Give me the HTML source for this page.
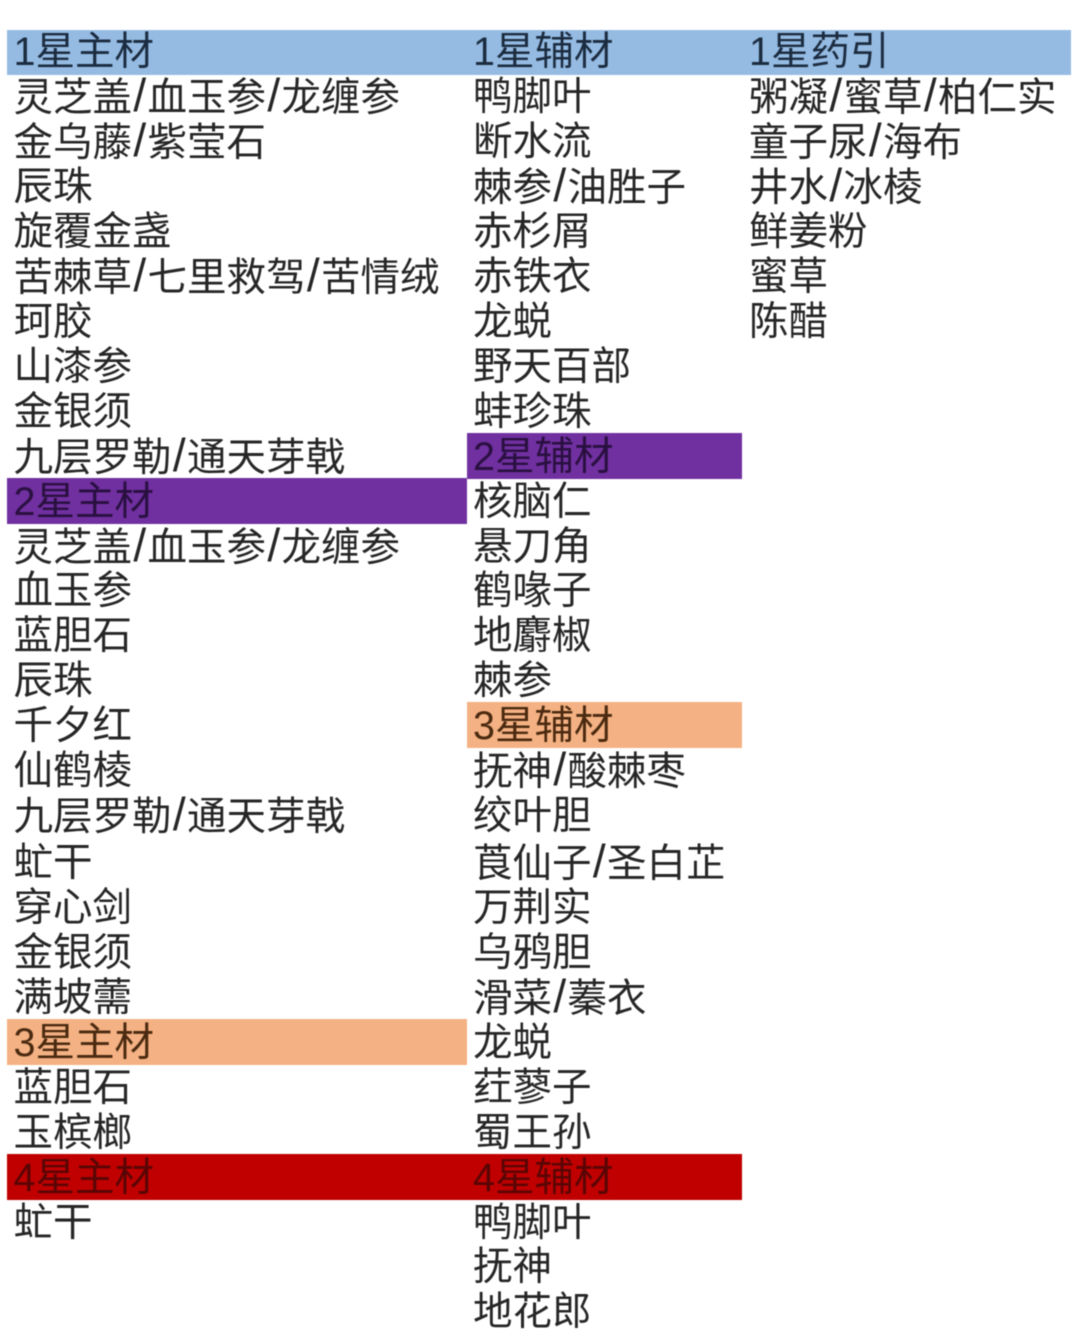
<!DOCTYPE html>
<html lang="zh">
<head>
<meta charset="utf-8">
<style>
html,body{margin:0;padding:0;background:#fff;}
#p{position:relative;width:1080px;height:1341px;overflow:hidden;background:#fff;font-family:"Liberation Sans","Noto Sans CJK SC",sans-serif;font-size:39.5px;color:#262626;}
.b{position:absolute;filter:blur(.5px);}
.c{position:absolute;top:.5px;white-space:nowrap;filter:blur(.55px);}
.c div{position:absolute;left:0;height:45px;line-height:45px;}
.h{color:#1c2c40;}
.s{display:inline-block;width:15.5px;text-align:center;font-style:normal;font-size:46px;line-height:40px;}
</style>
</head>
<body>
<div id="p">
<div class="b" style="left:7px;top:30px;width:1064px;height:45px;background:#95bbe3"></div>
<div class="b" style="left:467px;top:433px;width:275px;height:46px;background:#7030a0"></div>
<div class="b" style="left:7px;top:478px;width:460px;height:46px;background:#7030a0"></div>
<div class="b" style="left:467px;top:702px;width:275px;height:46px;background:#f4b183"></div>
<div class="b" style="left:7px;top:1019px;width:460px;height:46px;background:#f4b183"></div>
<div class="b" style="left:7px;top:1154px;width:735px;height:46px;background:#c00000"></div>

<div class="c" style="left:13.5px">
<div class="h" style="top:29px">1星主材</div>
<div style="top:74px">灵芝盖<i class="s">/</i>血玉参<i class="s">/</i>龙缠参</div>
<div style="top:119px">金乌藤<i class="s">/</i>紫莹石</div>
<div style="top:164px">辰珠</div>
<div style="top:209px">旋覆金盏</div>
<div style="top:254px">苦棘草<i class="s">/</i>七里救驾<i class="s">/</i>苦情绒</div>
<div style="top:299px">珂胶</div>
<div style="top:344px">山漆参</div>
<div style="top:389px">金银须</div>
<div style="top:434px">九层罗勒<i class="s">/</i>通天芽戟</div>
<div class="h" style="top:479px;color:#2a1040">2星主材</div>
<div style="top:524px">灵芝盖<i class="s">/</i>血玉参<i class="s">/</i>龙缠参</div>
<div style="top:568px">血玉参</div>
<div style="top:613px">蓝胆石</div>
<div style="top:658px">辰珠</div>
<div style="top:703px">千夕红</div>
<div style="top:748px">仙鹤棱</div>
<div style="top:793px">九层罗勒<i class="s">/</i>通天芽戟</div>
<div style="top:840px">虻干</div>
<div style="top:885px">穿心剑</div>
<div style="top:930px">金银须</div>
<div style="top:975px">满坡薷</div>
<div class="h" style="top:1020px;color:#4a2a10">3星主材</div>
<div style="top:1065px">蓝胆石</div>
<div style="top:1110px">玉槟榔</div>
<div class="h" style="top:1155px;color:#5a0505">4星主材</div>
<div style="top:1200px">虻干</div>
</div>

<div class="c" style="left:473px">
<div class="h" style="top:29px">1星辅材</div>
<div style="top:74px">鸭脚叶</div>
<div style="top:119px">断水流</div>
<div style="top:164px">棘参<i class="s">/</i>油胜子</div>
<div style="top:209px">赤杉屑</div>
<div style="top:254px">赤铁衣</div>
<div style="top:299px">龙蜕</div>
<div style="top:344px">野天百部</div>
<div style="top:389px">蚌珍珠</div>
<div class="h" style="top:434px;color:#2a1040">2星辅材</div>
<div style="top:479px">核脑仁</div>
<div style="top:524px">悬刀角</div>
<div style="top:568px">鹤喙子</div>
<div style="top:613px">地麝椒</div>
<div style="top:658px">棘参</div>
<div class="h" style="top:703px;color:#4a2a10">3星辅材</div>
<div style="top:748px">抚神<i class="s">/</i>酸棘枣</div>
<div style="top:793px">绞叶胆</div>
<div style="top:840px">莨仙子<i class="s">/</i>圣白芷</div>
<div style="top:885px">万荆实</div>
<div style="top:930px">乌鸦胆</div>
<div style="top:975px">滑菜<i class="s">/</i>蓁衣</div>
<div style="top:1020px">龙蜕</div>
<div style="top:1065px">荭蓼子</div>
<div style="top:1110px">蜀王孙</div>
<div class="h" style="top:1155px;color:#5a0505">4星辅材</div>
<div style="top:1200px">鸭脚叶</div>
<div style="top:1244px">抚神</div>
<div style="top:1289px">地花郎</div>
</div>

<div class="c" style="left:749px">
<div class="h" style="top:29px">1星药引</div>
<div style="top:74px">粥凝<i class="s">/</i>蜜草<i class="s">/</i>柏仁实</div>
<div style="top:119px">童子尿<i class="s">/</i>海布</div>
<div style="top:164px">井水<i class="s">/</i>冰棱</div>
<div style="top:209px">鲜姜粉</div>
<div style="top:254px">蜜草</div>
<div style="top:299px">陈醋</div>
</div>
</div>
</body>
</html>
